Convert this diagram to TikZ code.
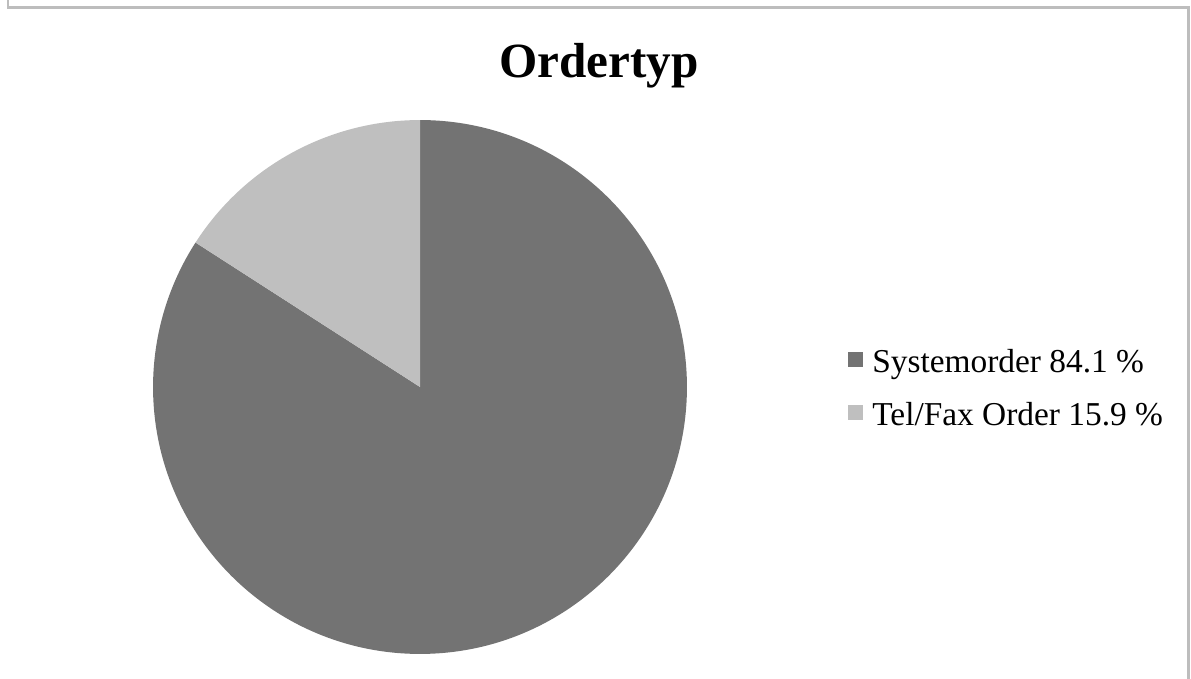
\documentclass[tikz,border=0pt]{standalone}
\usepackage{fontspec}
\setmainfont{Liberation Serif}
\usetikzlibrary{positioning}

\definecolor{sysgray}{HTML}{737373}
\definecolor{telgray}{HTML}{BFBFBF}
\definecolor{framegray}{HTML}{BDBDBD}

\begin{document}
\begin{tikzpicture}[x=0.02cm,y=0.02cm,
                    legendbox/.style={minimum size=0.3cm,inner sep=0pt},
                    legendtext/.style={anchor=base west,inner sep=0pt,font=\fontsize{19}{23}\selectfont}
]
\useasboundingbox (0,0) rectangle (1191,679);
\draw[framegray,line width=1.7pt] (8,679) |- (1188,671) -- (1188,0);

\node [font=\bfseries\fontsize{28}{34}\selectfont,anchor=base,inner sep=0pt] at (599,601) (title) {Ordertyp};

\coordinate (pie) at (420,292);
\fill[sysgray] (pie) -- ++(90:5.34cm) arc[start angle=90,end angle=-212.76,radius=5.34cm] -- cycle;
\fill[telgray] (pie) -- ++(90:5.34cm) arc[start angle=90,end angle=147.24,radius=5.34cm] -- cycle;

\node [legendbox,fill=sysgray] at (855,319) (sysbox) {};
\node [legendbox,fill=telgray] at (855,266) (telbox) {};
\node [legendtext] at (872,306) (systext) {Systemorder 84.1 \%};
\node [legendtext] at (872,253) (teltext) {Tel/Fax Order 15.9 \%};

\end{tikzpicture}
\end{document}
